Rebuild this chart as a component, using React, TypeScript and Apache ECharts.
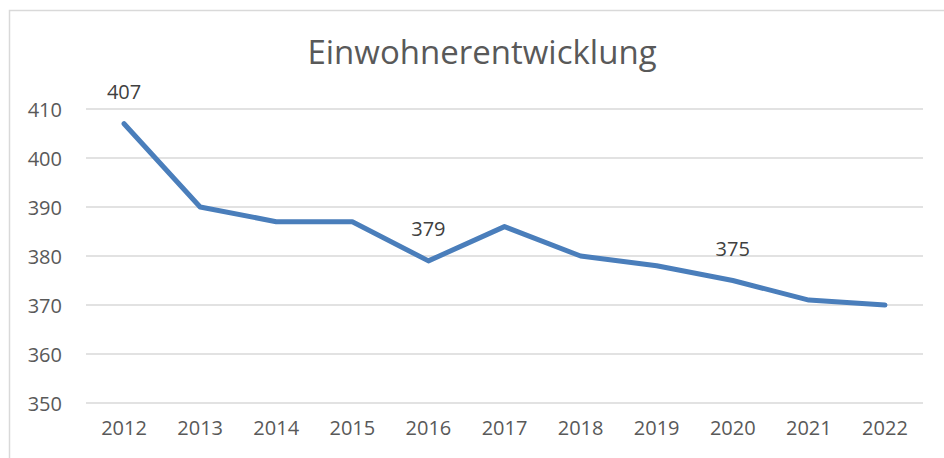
import React, { useEffect, useRef } from "react";
import * as echarts from "echarts";

const years = ["2012", "2013", "2014", "2015", "2016", "2017", "2018", "2019", "2020", "2021", "2022"];
const residents = [407, 390, 387, 387, 379, 386, 380, 378, 375, 371, 370];
const labelledYears = ["2012", "2016", "2020"];
const titleText = "Einwohnerentwicklung";

export default function App() {
  const ref = useRef<HTMLDivElement>(null);
  useEffect(() => {
    if (!ref.current) return;
    const chart = echarts.init(ref.current, null, { renderer: "svg" });
    const font = "'Open Sans', 'Noto Sans', sans-serif";
    chart.setOption({
      animation: false,
      backgroundColor: "#ffffff",
      textStyle: { fontFamily: font },
      title: {
        text: titleText,
        left: 477,
        top: 30,
        textAlign: "center",
        textStyle: { fontFamily: font, fontSize: 33, fontWeight: "normal", color: "#595959" },
      },
      graphic: [
        {
          type: "rect",
          shape: { x: 9.5, y: 10.5, width: 1200, height: 1200 },
          style: { fill: "none", stroke: "#d9d9d9", lineWidth: 1.5 },
          silent: true,
        },
      ],
      grid: { left: 86, right: 21, top: 109, bottom: 55, containLabel: false },
      xAxis: {
        type: "category",
        data: years,
        boundaryGap: true,
        axisLine: { show: false },
        axisTick: { show: false },
        axisLabel: { color: "#595959", fontSize: 20, fontFamily: font, margin: 14 },
      },
      yAxis: {
        type: "value",
        min: 350,
        max: 410,
        interval: 10,
        axisLine: { show: false },
        axisTick: { show: false },
        axisLabel: { color: "#595959", fontSize: 20, fontFamily: font, margin: 24 },
        splitLine: { lineStyle: { color: "#d9d9d9", width: 1.5 } },
      },
      series: [
        {
          type: "line",
          data: residents.map((v, i) => ({
            value: v,
            label: { show: labelledYears.includes(years[i]) },
          })),
          showSymbol: true,
          symbol: "circle",
          symbolSize: 0.01,
          lineStyle: { color: "#4a7ebb", width: 5, cap: "round", join: "round" },
          itemStyle: { color: "#4a7ebb" },
          label: {
            position: "top",
            distance: 22,
            color: "#404040",
            fontSize: 20,
            fontFamily: font,
          },
        },
      ],
    });
    return () => chart.dispose();
  }, []);
  return <div ref={ref} style={{ position: "fixed", left: 0, top: 0, width: 944, height: 458 }} />;
}
